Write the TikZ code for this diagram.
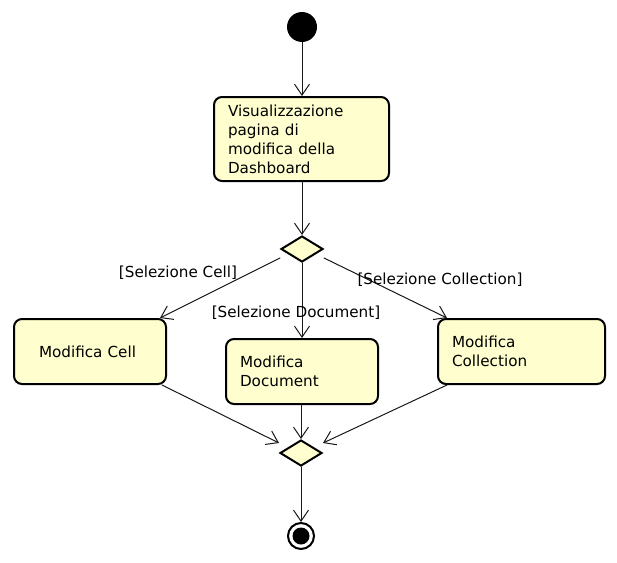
\documentclass[tikz,border=0pt]{standalone}
\usepackage{fontspec}
\setmainfont{DejaVu Sans}
\usetikzlibrary{arrows.meta}
\usetikzlibrary{positioning}
\usetikzlibrary{shapes.geometric}
\definecolor{adfill}{HTML}{FEFECE}
\definecolor{adink}{HTML}{000000}
\definecolor{adline}{HTML}{181818}
\tikzset{
  adbox/.style={
    draw=adink, fill=adfill, rounded corners=8pt, line width=2pt,
    anchor=north west, align=left, inner xsep=14pt, inner ysep=0pt,
    font=\fontsize{15.2}{19}\selectfont, text=adink},
  addecision/.style={
    diamond, draw=adink, fill=adfill, line width=2pt, inner sep=0pt,
    minimum width=42pt, minimum height=26pt},
  adarrow/.style={-{Straight Barb[length=11pt, width=15pt]}, draw=adline,
    line width=1pt},
  adguard/.style={font=\fontsize{15.2}{17}\selectfont, text=adink},
  every picture/.style={line cap=round},
}
\begin{document}
\begin{tikzpicture}[x=1pt, y=-1pt]
\useasboundingbox (0, 0) rectangle (617, 562);

% Start and first activity.
\node[circle, fill=adink, minimum size=30pt, inner sep=0pt]
  (start) at (302, 27) {};
\node[adbox, minimum width=175pt, minimum height=84pt, text width=147pt]
  (dash) at (213, 96)
  {Visualizzazione\\pagina di\\modifica della\\Dashboard};
\draw[adarrow] (start.south) -- (start.south |- dash.north);

% Branching on the selection.
\node[addecision] (split) at (302, 249) {};
\draw[adarrow] (split |- dash.south) -- (split.north);

\node[adbox, minimum width=152pt, minimum height=65pt, text width=102pt,
      inner xsep=25pt] (cell) at (13, 318) {Modifica Cell};
\node[adbox, minimum width=152pt, minimum height=65pt, text width=124pt]
  (doc) at (225, 338) {Modifica\\Document};
\node[adbox, minimum width=167pt, minimum height=65pt, text width=139pt]
  (coll) at (437, 318) {Modifica\\Collection};

\draw[adarrow] ([yshift=-9pt]split.west) -- ([xshift=-7pt]cell.north east);
\draw[adarrow] (split.south) -- (split.south |- doc.north);
\draw[adarrow] ([yshift=-9pt]split.east) -- ([xshift=10pt]coll.north west);

\node[adguard] (gcell) at (178, 273) {[Selezione Cell]};
\node[adguard] (gdoc) at (296, 313) {[Selezione Document]};
\node[adguard] (gcoll) at (440, 280) {[Selezione Collection]};

% Merge and end.
\node[addecision] (merge) at (301, 453) {};
\draw[adarrow] ([xshift=-5pt]cell.south east) -- ([yshift=10pt]merge.west);
\draw[adarrow] (doc.south -| merge) -- (merge.north);
\draw[adarrow] ([xshift=10pt]coll.south west) -- ([yshift=10pt]merge.east);

\node[circle, draw=adink, fill=white, line width=2pt, minimum size=26pt,
      inner sep=0pt,
      path picture={\fill[adink] (path picture bounding box.center)
        circle (8.5pt);}]
  (stop) at (301, 536) {};
\draw[adarrow] (merge.south) -- (stop.north);

\end{tikzpicture}
\end{document}
